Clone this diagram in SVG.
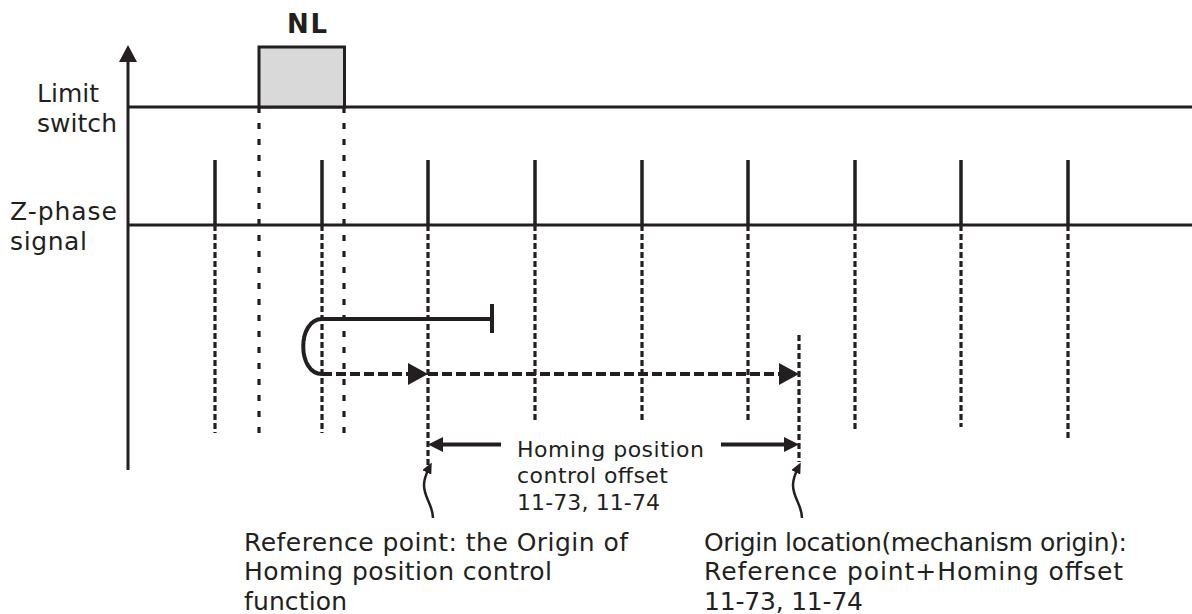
<svg xmlns="http://www.w3.org/2000/svg" width="1192" height="614" viewBox="0 0 1192 614">
<style>
.ln{stroke:#231f20;stroke-width:3;fill:none}
.pulse{stroke:#231f20;stroke-width:3.5;fill:none}
.zd{stroke:#231f20;stroke-width:3.2;fill:none;stroke-dasharray:6 3}
.nd{stroke:#231f20;stroke-width:3.2;fill:none;stroke-dasharray:6 10}
.hd{stroke:#231f20;stroke-width:4;fill:none;stroke-dasharray:10 4}
.sl{stroke:#231f20;stroke-width:4;fill:none}
.sq{stroke:#231f20;stroke-width:2.5;fill:none}
.t{font-family:"DejaVu Sans","Liberation Sans",Arial,sans-serif;font-size:25px;fill:#231f20}
.ts{font-family:"DejaVu Sans","Liberation Sans",Arial,sans-serif;font-size:22px;fill:#231f20}
.tb{font-family:"DejaVu Sans","Liberation Sans",Arial,sans-serif;font-size:26px;font-weight:bold;fill:#231f20}
</style>
<defs>
<marker id="big" viewBox="0 0 20 22" refX="12" refY="11" markerWidth="20" markerHeight="22" markerUnits="userSpaceOnUse" orient="auto"><path d="M0,0 L20,11 L0,22 Z" fill="#231f20"/></marker>
<marker id="small" viewBox="0 0 15 15" refX="9" refY="7.5" markerWidth="15" markerHeight="15" markerUnits="userSpaceOnUse" orient="auto"><path d="M0,0 L15,7.5 L0,15 Z" fill="#231f20"/></marker>
<marker id="tiny" viewBox="0 0 11 10" refX="6" refY="5" markerWidth="11" markerHeight="10" markerUnits="userSpaceOnUse" orient="auto"><path d="M0,0 L11,5 L0,10 Z" fill="#231f20"/></marker>
</defs>
<rect width="1192" height="614" fill="#ffffff"/>

<g id="axis">
<line class="ln" x1="128" y1="60" x2="128" y2="470"/>
<polygon points="119,62 128,45 137,62" fill="#231f20"/>
</g>

<g id="limit-switch">
<line class="ln" x1="128" y1="107" x2="1192" y2="107"/>
<text class="t" x="37" y="102" textLength="62" lengthAdjust="spacing">Limit</text>
<text class="t" x="37" y="132" textLength="80" lengthAdjust="spacing">switch</text>
</g>

<g id="nl-box">
<rect x="259" y="47" width="85.5" height="60" fill="#d9d9d9" stroke="#231f20" stroke-width="3"/>
<text class="tb" x="287" y="33" textLength="40" lengthAdjust="spacing">NL</text>
</g>

<g id="z-phase">
<line class="ln" x1="128" y1="225" x2="1192" y2="225"/>
<text class="t" x="10" y="220" textLength="107" lengthAdjust="spacing">Z-phase</text>
<text class="t" x="10" y="250" textLength="77" lengthAdjust="spacing">signal</text>
<path class="pulse" d="M215,160V225 M322,160V225 M428,160V225 M535,160V225 M642,160V225 M748,160V225 M855,160V225 M961,160V225 M1068,160V225"/>
</g>

<g id="guides">
<path class="nd" d="M259,107V433 M344,107V433"/>
<path class="zd" d="M215,225V433 M322,225V433 M428,225V465 M535,225V423 M642,225V423 M748,225V423 M855,225V430 M961,225V427 M1068,225V438"/>
<path class="zd" d="M799,335V462"/>
</g>

<g id="connectors">
<path class="sl" d="M492,319 H322 C297,319 297,374 322,374"/>
<line class="sl" x1="492" y1="304" x2="492" y2="333"/>
<path class="hd" d="M322,374 H420" marker-end="url(#big)"/>
<path class="hd" d="M428,374 H791" marker-end="url(#big)"/>
<path class="sl" d="M501,444.5 H434" marker-end="url(#small)"/>
<path class="sl" d="M721,444.5 H793" marker-end="url(#small)"/>
<path class="sq" d="M433,518 C433,505 424,498 424,485 C424,478 427,472 429.5,467" marker-end="url(#tiny)"/>
<path class="sq" d="M802,518 C802,505 793,498 793,485 C793,478 796,472 798.5,467" marker-end="url(#tiny)"/>
</g>

<g id="offset-label">
<text class="ts" x="517" y="457" textLength="187" lengthAdjust="spacing">Homing position</text>
<text class="ts" x="517" y="483" textLength="151" lengthAdjust="spacing">control offset</text>
<text class="ts" x="517" y="510" textLength="143" lengthAdjust="spacing">11-73, 11-74</text>
</g>

<g id="reference-point-note">
<text class="t" x="244" y="551" textLength="384" lengthAdjust="spacing">Reference point: the Origin of</text>
<text class="t" x="244" y="580" textLength="308" lengthAdjust="spacing">Homing position control</text>
<text class="t" x="244" y="610" textLength="103" lengthAdjust="spacing">function</text>
</g>

<g id="origin-location-note">
<text class="t" x="704" y="551" textLength="423" lengthAdjust="spacing">Origin location(mechanism origin):</text>
<text class="t" x="704" y="580" textLength="419" lengthAdjust="spacing">Reference point+Homing offset</text>
<text class="t" x="704" y="610" textLength="159" lengthAdjust="spacing">11-73, 11-74</text>
</g>
</svg>
